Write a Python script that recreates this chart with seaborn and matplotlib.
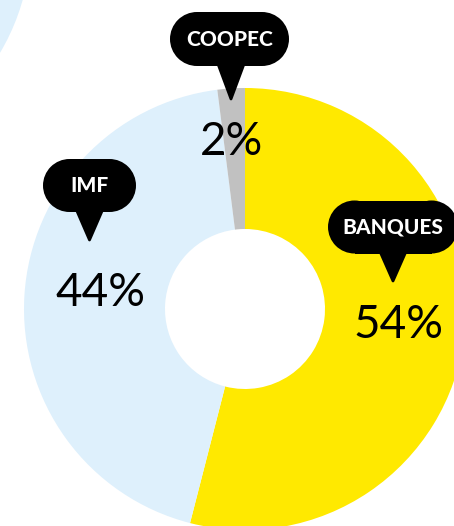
import matplotlib
matplotlib.use("Agg")
import matplotlib.pyplot as plt
from matplotlib.patches import Rectangle, Polygon, Circle
import seaborn as sns

# Données
categories = ["BANQUES", "IMF", "COOPEC"]
values = [54, 44, 2]
colors = ["#FFE900", "#DEF0FC", "#C1C1C1"]

sns.set_theme(style="white")
plt.rcParams['font.family'] = ['Lato', 'DejaVu Sans']

W, H = 454, 526
fig = plt.figure(figsize=(W / 100, H / 100), dpi=100)
ax = fig.add_axes([0, 0, 1, 1])


def py(y):
    # coordonnées pixel (origine en haut) -> données
    return H - y


# Anneau
cx, cy, r_out, r_in = 245, py(309), 221, 80
ax.pie(values, colors=colors, startangle=90, counterclock=False,
       center=(cx, cy), radius=r_out,
       wedgeprops=dict(width=r_out - r_in, linewidth=0))

# Fragment d'un autre anneau en haut à gauche
ax.add_patch(Circle((-190, py(-60)), 221, color="#DEF0FC", lw=0, zorder=0))

# Bulles et pourcentages (centre de la bulle, largeur, hauteur / pointe / position du %)
layout = {
    "BANQUES": dict(box=(393, 227, 130, 53), tip=(393, 282), pct=(398, 325)),
    "IMF": dict(box=(89.5, 185.5, 93, 53), tip=(89.5, 241), pct=(100, 293)),
    "COOPEC": dict(box=(229.5, 39, 119, 54), tip=(231, 100), pct=(232, 142)),
}


def pill(x, y, w, h):
    r = h / 2
    ax.add_patch(Rectangle((x - w / 2 + r, y - r), w - 2 * r, h,
                           fc="black", ec="none", zorder=3))
    for ex in (x - w / 2 + r, x + w / 2 - r):
        ax.add_patch(Circle((ex, y), r, fc="black", ec="none", zorder=3))


for cat, val in zip(categories, values):
    lay = layout[cat]
    bx, by, bw, bh = lay["box"]
    pill(bx, py(by), bw, bh)
    tx, ty = lay["tip"]
    top = by + bh / 2 - 2
    ax.add_patch(Polygon([(tx - 13, py(top)), (tx + 13, py(top)), (tx, py(ty - 1))],
                         closed=True, fc="black", ec="black", lw=2,
                         joinstyle="round", zorder=3))
    ax.text(bx, py(by), cat, color="white", fontsize=15, fontweight="black",
            ha="center", va="center", zorder=4)
    px_, py_ = lay["pct"]
    ax.text(px_, py(py_), f"{val}%", color="black", fontsize=33,
            fontweight="normal", ha="center", va="center", zorder=4)

ax.set_xlim(0, W)
ax.set_ylim(0, H)
ax.set_aspect("equal")
ax.set_axis_off()

fig.savefig("out.png", dpi=100)
